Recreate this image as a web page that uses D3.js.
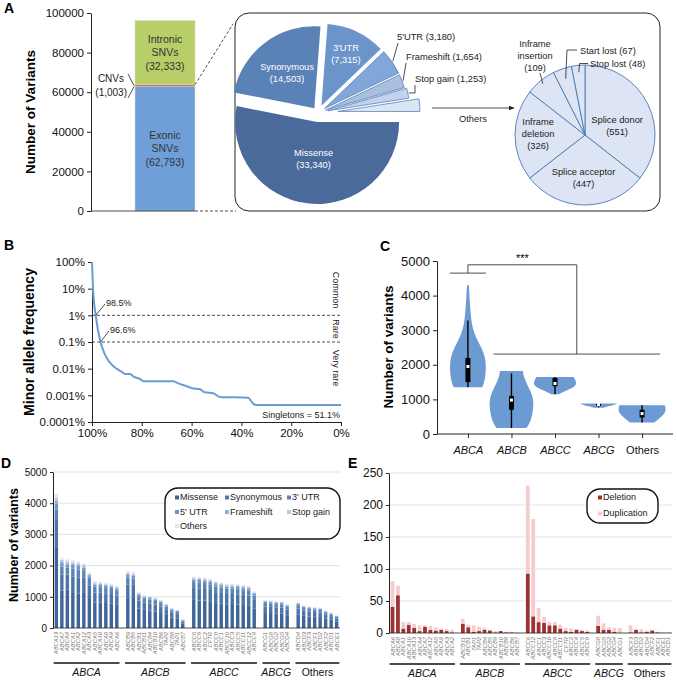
<!DOCTYPE html>
<html>
<head>
<meta charset="utf-8">
<script src="https://cdn.jsdelivr.net/npm/d3@7"></script>
<style>
body { margin: 0; background: #fff; }
svg text { font-family: "Liberation Sans", Arial, Helvetica, sans-serif; }
</style>
</head>
<body>
<svg id="fig" width="677" height="680"></svg>
<script>
// ---- panel A data
const variantTypes = ["Exonic", "CNVs", "Intronic"];
const variantCounts = [62793, 1003, 32333];
const aTicks = [0, 20000, 40000, 60000, 80000, 100000];

const exonicTypes = ["Missense", "Synonymous", "3'UTR", "5'UTR", "Frameshift", "Stop gain", "Others"];
const exonicCounts = [33340, 14503, 7315, 3180, 1654, 1253, 1548];
const otherTypes = ["Splice donor", "Splice acceptor", "Inframe deletion", "Inframe insertion", "Start lost", "Stop lost"];
const otherCounts = [551, 447, 326, 109, 67, 48];

// ---- panel B data (share of variants, MAF %)
const mafShare = [100, 99.6, 98.5, 96.6, 95.3, 94, 92, 90, 88, 86.7, 84.7, 83.3, 80.7, 79.3, 67.3, 66, 62, 59.3, 56.7, 54.7, 51.3, 48.7, 37.3, 35.3, 34, 0];
const mafValue = [100, 10.5, 1, 0.1, 0.044, 0.0245, 0.0138, 0.0098, 0.0076, 0.0063, 0.0063, 0.005, 0.0041, 0.0034, 0.0034, 0.003, 0.0022, 0.0018, 0.0017, 0.0013, 0.0012, 0.00087, 0.00081, 0.00049, 0.00043, 0.00043];
const mafTicks = [100, 10, 1, 0.1, 0.01, 0.001, 0.0001];
const mafTickLabels = ["100%", "10%", "1%", "0.1%", "0.01%", "0.001%", "0.0001%"];
const shareTicks = [100, 80, 60, 40, 20, 0];

// ---- panel C data
const families = ["ABCA", "ABCB", "ABCC", "ABCG", "Others"];
// [variants, relative density]
const violinProfiles = [
    [[1350, 0.6], [1500, 0.68], [1700, 0.73], [1900, 0.75], [2100, 0.74], [2300, 0.68], [2500, 0.56], [2700, 0.4], [2900, 0.28], [3100, 0.19], [3300, 0.14], [3600, 0.1], [3900, 0.07], [4300, 0.04]],
    [[170, 0.62], [300, 0.75], [500, 0.85], [700, 0.9], [900, 0.92], [1100, 0.88], [1300, 0.75], [1500, 0.6], [1700, 0.5], [1820, 0.48]],
    [[1150, 0.15], [1250, 0.45], [1350, 0.8], [1450, 0.9], [1550, 0.85], [1650, 0.78]],
    [[760, 0.2], [800, 0.4], [840, 0.65], [880, 0.78]],
    [[330, 0.5], [450, 0.72], [550, 0.88], [650, 0.98], [750, 0.98], [830, 0.95]]
];
// low whisker, q1, median, q3, high whisker
const boxStats = [
    [1350, 1500, 1950, 2200, 3280],
    [170, 700, 980, 1100, 1750],
    [1150, 1380, 1460, 1620, 1650],
    [770, 820, 850, 870, 880],
    [330, 480, 590, 700, 830]
];
const cTicks = [0, 1000, 2000, 3000, 4000, 5000];

// ---- panel D data
const snvGenes = [
    ["ABCA13", "ABCA7", "ABCA4", "ABCA1", "ABCA2", "ABCA12", "ABCA3", "ABCA5", "ABCA10", "ABCA8", "ABCA9", "ABCA6"],
    ["ABCB9", "ABCB5", "ABCB1", "ABCB11", "ABCB4", "ABCB10", "ABCB6", "TAP2", "ABCB8", "TAP1", "ABCB7"],
    ["ABCC6", "ABCC9", "ABCC2", "CFTR", "ABCC8", "ABCC1", "ABCC10", "ABCC3", "ABCC5", "ABCC11", "ABCC12", "ABCC4"],
    ["ABCG1", "ABCG8", "ABCG2", "ABCG5", "ABCG4"],
    ["ABCD4", "ABCD3", "ABCF3", "ABCF1", "ABCD2", "ABCF2", "ABCD1", "ABCE1"]
];
const snvMissense = [2620, 1200, 1230, 1150, 1100, 1150, 960, 810, 820, 800, 780, 740, 960, 990, 620, 580, 560, 530, 480, 420, 340, 310, 140, 900, 880, 880, 860, 800, 780, 760, 770, 750, 740, 730, 630, 480, 480, 460, 460, 410, 440, 390, 370, 360, 350, 300, 265, 215];
const snvSynonymous = [900, 520, 480, 500, 520, 460, 410, 330, 320, 310, 310, 300, 430, 390, 260, 230, 230, 220, 210, 180, 150, 135, 65, 380, 380, 370, 360, 350, 340, 330, 320, 330, 320, 310, 270, 210, 200, 200, 195, 175, 190, 165, 160, 155, 150, 130, 112, 92];
const snvUtr3 = [280, 250, 230, 260, 250, 220, 200, 180, 170, 170, 160, 150, 220, 200, 140, 120, 120, 115, 105, 90, 75, 70, 32, 190, 200, 190, 180, 180, 175, 170, 170, 165, 165, 160, 140, 110, 105, 105, 100, 90, 100, 85, 85, 80, 78, 68, 58, 48];
const snvUtr5 = [180, 110, 100, 110, 120, 100, 90, 70, 70, 70, 70, 65, 90, 90, 55, 50, 50, 50, 45, 40, 35, 30, 15, 80, 80, 80, 80, 75, 75, 70, 70, 70, 70, 65, 55, 45, 45, 45, 45, 40, 40, 35, 35, 35, 32, 28, 25, 20];
const snvFrameshift = [110, 60, 55, 50, 50, 50, 45, 40, 35, 35, 35, 35, 45, 45, 30, 25, 25, 25, 22, 20, 15, 14, 7, 40, 40, 40, 40, 40, 35, 35, 35, 35, 35, 35, 30, 22, 20, 20, 20, 18, 20, 18, 16, 16, 15, 14, 12, 10];
const snvStopGain = [90, 50, 45, 40, 40, 40, 35, 30, 30, 30, 30, 25, 35, 35, 20, 20, 20, 18, 18, 14, 12, 10, 5, 30, 30, 30, 30, 25, 25, 25, 25, 25, 25, 25, 20, 15, 15, 15, 15, 12, 15, 12, 12, 12, 12, 10, 8, 7];
const snvOthers = [120, 60, 60, 60, 50, 50, 40, 40, 35, 35, 35, 35, 40, 40, 25, 25, 25, 22, 20, 16, 13, 11, 6, 30, 30, 30, 30, 30, 30, 30, 30, 25, 25, 25, 25, 18, 15, 15, 15, 15, 15, 15, 12, 12, 13, 10, 10, 8];
const snvSeriesNames = ["Missense", "Synonymous", "3' UTR", "5' UTR", "Frameshift", "Stop gain", "Others"];
const dTicks = [0, 1000, 2000, 3000, 4000, 5000];

// ---- panel E data
const cnvGenes = [
    ["ABCA6", "ABCA8", "ABCA1", "ABCA10", "ABCA13", "ABCA4", "ABCA7", "ABCA12", "ABCA5", "ABCA9", "ABCA3", "ABCA2"],
    ["ABCB11", "ABCB1", "TAP1", "TAP2", "ABCB4", "ABCB5", "ABCB9", "ABCB10", "ABCB8", "ABCB6", "ABCB7"],
    ["ABCC6", "ABCC12", "ABCC1", "ABCC3", "ABCC10", "ABCC8", "ABCC11", "CFTR", "ABCC2", "ABCC4", "ABCC5", "ABCC9"],
    ["ABCG8", "ABCG5", "ABCG2", "ABCG4", "ABCG1"],
    ["ABCF3", "ABCD3", "ABCD2", "ABCD4", "ABCF2", "ABCF1", "ABCE1", "ABCD1"]
];
const cnvDeletion = [41, 59, 7, 13, 8, 3, 10, 5, 4, 5, 3, 1, 14, 9, 2, 3, 5, 4, 1, 3, 1, 1, 0, 93, 26, 17, 16, 12, 12, 7, 3, 2, 5, 3, 2, 11, 5, 5, 2, 0, 1, 5, 1, 2, 4, 1, 0, 0];
const cnvDuplication = [40, 15, 10, 4, 6, 9, 2, 6, 5, 2, 3, 4, 8, 4, 10, 7, 3, 1, 2, 0, 1, 1, 1, 137, 152, 22, 9, 5, 5, 6, 5, 5, 1, 2, 2, 16, 10, 4, 6, 8, 11, 2, 5, 2, 1, 1, 1, 1];
const cnvSeriesNames = ["Deletion", "Duplication"];
const eTicks = [0, 50, 100, 150, 200, 250];

// ------------------------------------------------------------------
const svg = d3.select("#fig");
const fmt = d3.format(",");
const plain = d3.format("d");
const MYR = "'Noto Sans', 'Open Sans', sans-serif";
const SANS = "'Liberation Sans', Arial, sans-serif";

function styleAxis(g, size) {
    g.attr("font-family", SANS).attr("font-size", size);
    g.selectAll(".domain, .tick line").attr("stroke", "#222");
    g.selectAll(".tick text").attr("fill", "#111");
}

function panelLetter(x, y, t) {
    svg.append("text").attr("x", x).attr("y", y).attr("font-size", 14)
        .attr("font-weight", "bold").text(t);
}

function yTitle(x, y, t, size) {
    svg.append("text").attr("transform", `translate(${x},${y}) rotate(-90)`)
        .attr("text-anchor", "middle").attr("font-size", size)
        .attr("font-weight", "bold").text(t);
}

function line(g, pts, dash) {
    g.append("path").attr("d", d3.line()(pts)).attr("fill", "none")
        .attr("stroke", "#222").attr("stroke-width", 0.8)
        .attr("stroke-dasharray", dash || null);
}

// ================= A =================
panelLetter(4, 13, "A");
const gA = svg.append("g");
const yA = d3.scaleLinear().domain([0, 100000]).range([211, 13]);
gA.append("g").attr("transform", "translate(91,0)")
    .call(d3.axisLeft(yA).tickValues(aTicks).tickSize(4).tickSizeOuter(0).tickFormat(plain))
    .call(g => styleAxis(g, 11.5));
yTitle(35, 112, "Number of Variants", 13.5);

const variantColors = ["#6e9fd9", "#d0665c", "#b8ce69"];
let cum = 0;
const stackA = variantCounts.map((v, i) => {
    const s = { type: variantTypes[i], v: v, y0: cum, y1: cum + v };
    cum += v;
    return s;
});
gA.selectAll("rect.seg").data(stackA).join("rect")
    .attr("x", 135).attr("width", 60)
    .attr("y", d => yA(d.y1)).attr("height", d => yA(d.y0) - yA(d.y1))
    .attr("fill", (d, i) => variantColors[i])
    .attr("stroke", "#d8dccf").attr("stroke-width", 0.6);

[0, 2].forEach(i => {
    const d = stackA[i];
    const cy = yA((d.y0 + d.y1) / 2);
    [d.type, "SNVs", "(" + fmt(d.v) + ")"].forEach((t, k) => {
        gA.append("text").attr("x", 165).attr("y", cy + (k - 1) * 13.5 + 3.5)
            .attr("text-anchor", "middle").attr("font-family", MYR).attr("font-size", 10.5)
            .attr("fill", "#333").text(t);
    });
});
const cnvY = yA((stackA[1].y0 + stackA[1].y1) / 2);
gA.append("text").attr("x", 124).attr("y", 82).attr("text-anchor", "end")
    .attr("font-family", MYR).attr("font-size", 10).attr("fill", "#222").text("CNVs");
gA.append("text").attr("x", 127).attr("y", 96).attr("text-anchor", "end")
    .attr("font-family", MYR).attr("font-size", 10).attr("fill", "#222").text("(" + fmt(variantCounts[1]) + ")");
line(gA, [[128, 74], [134, cnvY]]);
line(gA, [[128, 98], [134, cnvY + 1]]);

line(gA, [[91, 211], [195, 211]]);
line(gA, [[195, 211], [236, 211]], "3,2");
line(gA, [[195, yA(stackA[1].y1)], [233, 24]], "3,2");

// box around exonic breakdown
gA.append("rect").attr("x", 235).attr("y", 13).attr("width", 425).attr("height", 198)
    .attr("rx", 14).attr("fill", "none").attr("stroke", "#222").attr("stroke-width", 1);

// big pie
const pieR = 82, pieCx = 318, pieCy = 113;
const explode = [9, 6, 8, 8, 8, 10, 20];
const pieColors = ["#4a6a9b", "#5b82b6", "#6a94ca", "#80a7d7", "#a9bfe0", "#c4d2eb", "#dce5f4"];
const bigArcs = d3.pie().sort(null).startAngle(Math.PI / 2).endAngle(Math.PI * 2.5)(exonicCounts);
bigArcs.forEach((a, i) => {
    a.mid = (a.startAngle + a.endAngle) / 2;
    a.cx = pieCx + Math.sin(a.mid) * explode[i];
    a.cy = pieCy - Math.cos(a.mid) * explode[i];
});
const arcBig = d3.arc().innerRadius(0).outerRadius(pieR);
gA.selectAll("path.big").data(bigArcs).join("path")
    .attr("transform", a => `translate(${a.cx},${a.cy})`)
    .attr("d", arcBig)
    .attr("fill", (a, i) => pieColors[i])
    .attr("stroke", (a, i) => i >= 3 ? "#5a83be" : "none").attr("stroke-width", 0.8);

function arcPt(a, rr) {
    return [a.cx + Math.sin(a.mid) * rr, a.cy - Math.cos(a.mid) * rr];
}
const innerLabelR = [0.45, 0.55, 0.7];
innerLabelR.forEach((f, i) => {
    const p = arcPt(bigArcs[i], pieR * f);
    [exonicTypes[i], "(" + fmt(exonicCounts[i]) + ")"].forEach((t, k) => {
        gA.append("text").attr("x", p[0]).attr("y", p[1] + (k - 0.5) * 12 + 3.5)
            .attr("text-anchor", "middle").attr("font-family", MYR).attr("font-size", 9.3)
            .attr("fill", "#fff").text(t);
    });
});
const outerLabels = [
    { i: 3, x: 397, y: 39.5, pts: [[398, 43]] },
    { i: 4, x: 406, y: 59.5, pts: [[406, 63]] },
    { i: 5, x: 415, y: 81.5, pts: [[415, 93], [415, 85]] }
];
outerLabels.forEach(o => {
    gA.append("text").attr("x", o.x).attr("y", o.y).attr("font-family", MYR)
        .attr("font-size", 9.3).attr("fill", "#222")
        .text(exonicTypes[o.i] + " (" + fmt(exonicCounts[o.i]) + ")");
    line(gA, [arcPt(bigArcs[o.i], pieR + 1)].concat(o.pts));
});

// arrow to the breakdown of "Others"
svg.append("defs").append("marker").attr("id", "arrow").attr("viewBox", "0 0 10 10")
    .attr("refX", 9).attr("refY", 5).attr("markerWidth", 7).attr("markerHeight", 7)
    .attr("orient", "auto").append("path").attr("d", "M0,1L10,5L0,9Z").attr("fill", "#222");
gA.append("line").attr("x1", 432).attr("y1", 108).attr("x2", 514).attr("y2", 108)
    .attr("stroke", "#222").attr("stroke-width", 0.8).attr("marker-end", "url(#arrow)");
gA.append("text").attr("x", 473).attr("y", 122).attr("text-anchor", "middle")
    .attr("font-family", MYR).attr("font-size", 9.3).attr("fill", "#222").text(exonicTypes[6]);

// small pie
const sR = 70, sCx = 585, sCy = 135;
const smallArcs = d3.pie().sort(null)(otherCounts);
const arcSmall = d3.arc().innerRadius(0).outerRadius(sR);
gA.append("g").attr("transform", `translate(${sCx},${sCy})`)
    .selectAll("path").data(smallArcs).join("path")
    .attr("d", arcSmall).attr("fill", "#dde5f5").attr("stroke", "#4d78b5").attr("stroke-width", 0.9);

function sPt(a, rr) {
    const m = (a.startAngle + a.endAngle) / 2;
    return [sCx + Math.sin(m) * rr, sCy - Math.cos(m) * rr];
}
const smallInner = [
    { i: 0, ang: 73, f: 0.48, lines: ["Splice donor", "(551)"] },
    { i: 1, ang: 182, f: 0.61, lines: ["Splice acceptor", "(447)"] },
    { i: 2, ang: 272, f: 0.67, lines: ["Inframe", "deletion", "(326)"] }
];
smallInner.forEach(o => {
    const a = o.ang * Math.PI / 180;
    const px = sCx + Math.sin(a) * sR * o.f, py = sCy - Math.cos(a) * sR * o.f;
    const n = o.lines.length;
    o.lines.forEach((t, k) => {
        const txt = k === n - 1 ? "(" + otherCounts[o.i] + ")" : t;
        gA.append("text").attr("x", px).attr("y", py + (k - (n - 1) / 2) * 12 + 3.5)
            .attr("text-anchor", "middle").attr("font-family", MYR).attr("font-size", 9.3)
            .attr("fill", "#222").text(txt);
    });
});
["Inframe", "insertion", "(" + otherCounts[3] + ")"].forEach((t, k) => {
    gA.append("text").attr("x", 535).attr("y", 46.5 + k * 12).attr("text-anchor", "middle")
        .attr("font-family", MYR).attr("font-size", 9.3).attr("fill", "#222").text(t);
});
line(gA, [sPt(smallArcs[3], sR * 0.95), [540, 73]]);
gA.append("text").attr("x", 580).attr("y", 53.5).attr("font-family", MYR).attr("font-size", 9.3)
    .attr("fill", "#222").text(otherTypes[4] + " (" + otherCounts[4] + ")");
line(gA, [sPt(smallArcs[4], sR * 0.85), [567, 50], [577, 50]]);
gA.append("text").attr("x", 590).attr("y", 66.5).attr("font-family", MYR).attr("font-size", 9.3)
    .attr("fill", "#222").text(otherTypes[5] + " (" + otherCounts[5] + ")");
line(gA, [sPt(smallArcs[5], sR * 0.9), [579.5, 63.5], [588, 63.5]]);

// ================= B =================
panelLetter(4, 250, "B");
const gB = svg.append("g");
const xB = d3.scaleLinear().domain([100, 0]).range([92, 341]);
const yB = d3.scaleLog().domain([0.0001, 100]).range([422, 262]);
gB.append("g").attr("transform", "translate(92,0)")
    .call(d3.axisLeft(yB).tickValues(mafTicks).tickSize(4).tickSizeOuter(0)
        .tickFormat((d, i) => mafTickLabels[i]))
    .call(g => styleAxis(g, 11.5));
gB.append("g").attr("transform", "translate(0,422)")
    .call(d3.axisBottom(xB).tickValues(shareTicks).tickSize(4).tickSizeOuter(0)
        .tickFormat(d => d + "%"))
    .call(g => styleAxis(g, 11.5));
yTitle(34, 342, "Minor allele frequency", 14);

[1, 0.1].forEach(v => line(gB, [[92, yB(v)], [340, yB(v)]], "3,2"));
gB.append("path").datum(mafShare.map((s, i) => [xB(s), yB(mafValue[i])]))
    .attr("d", d3.line().curve(d3.curveMonotoneX))
    .attr("fill", "none").attr("stroke", "#6b9cd3").attr("stroke-width", 2);

[["Common", 290], ["Rare", 329], ["Very rare", 368]].forEach(d => {
    gB.append("text").attr("transform", `translate(333,${d[1]}) rotate(90)`)
        .attr("text-anchor", "middle").attr("font-family", MYR).attr("font-size", 9)
        .attr("fill", "#222").text(d[0]);
});
gB.append("text").attr("x", 106).attr("y", 306).attr("font-family", MYR).attr("font-size", 9)
    .attr("fill", "#222").text("98.5%");
line(gB, [[xB(98.5), yB(1)], [105, 304]]);
gB.append("text").attr("x", 110).attr("y", 333).attr("font-family", MYR).attr("font-size", 9)
    .attr("fill", "#222").text("96.6%");
line(gB, [[xB(96.6), yB(0.1)], [109, 331]]);
gB.append("text").attr("x", 340).attr("y", 418).attr("text-anchor", "end")
    .attr("font-family", MYR).attr("font-size", 9).attr("fill", "#222").text("Singletons = 51.1%");

// ================= C =================
panelLetter(380, 251, "C");
const gC = svg.append("g");
const xC = d3.scalePoint().domain(families).range([437, 673]).padding(0.71);
const yC = d3.scaleLinear().domain([0, 5000]).range([434, 261]);
const wC = d3.scaleLinear().domain([0, 1]).range([0, 24]);
gC.append("g").attr("transform", "translate(437,0)")
    .call(d3.axisLeft(yC).tickValues(cTicks).tickSize(4).tickSizeOuter(0).tickFormat(plain))
    .call(g => styleAxis(g, 13));
gC.append("g").attr("transform", "translate(0,434)")
    .call(d3.axisBottom(xC).tickSize(4).tickSizeOuter(0))
    .call(g => styleAxis(g, 11))
    .call(g => g.selectAll(".tick text").attr("dy", "1.15em")
        .attr("font-style", d => d === "Others" ? "normal" : "italic"))
    .call(g => g.select(".domain").attr("d", "M437,0H673"));
yTitle(393, 347, "Number of variants", 13.5);

families.forEach((f, i) => {
    const cx = xC(f);
    gC.append("path").datum(violinProfiles[i])
        .attr("d", d3.area().curve(d3.curveBasis)
            .y(d => yC(d[0])).x0(d => cx - wC(d[1])).x1(d => cx + wC(d[1])))
        .attr("fill", "#6c9bd3");
    const b = boxStats[i];
    gC.append("line").attr("x1", cx).attr("x2", cx).attr("y1", yC(b[0])).attr("y2", yC(b[4]))
        .attr("stroke", "#000").attr("stroke-width", 1.4);
    gC.append("rect").attr("x", cx - 2.5).attr("width", 5).attr("y", yC(b[3]))
        .attr("height", Math.max(2, yC(b[1]) - yC(b[3]))).attr("fill", "#000");
    gC.append("rect").attr("x", cx - 1.5).attr("width", 3).attr("y", yC(b[2]) - 1.5)
        .attr("height", 3).attr("fill", "#fff");
});
// significance bracket
const brLeft = xC("ABCA"), brRight = (xC("ABCB") - 18 + xC("Others") + 18) / 2;
line(gC, [[brLeft - 18, yC(4650)], [brLeft + 18, yC(4650)]]);
line(gC, [[brLeft, yC(4650)], [brLeft, yC(4890)], [brRight, yC(4890)], [brRight, yC(2310)]]);
line(gC, [[xC("ABCB") - 18, yC(2310)], [xC("Others") + 18, yC(2310)]]);
gC.append("text").attr("x", (brLeft + brRight) / 2).attr("y", yC(4890) - 3)
    .attr("text-anchor", "middle").attr("font-size", 11).text("***");

// ================= bar panels D / E =================
function slotList(groups) {
    const slots = [];
    groups.forEach((grp, gi) => {
        if (gi > 0) slots.push("gap" + gi);
        grp.forEach(g => slots.push(g));
    });
    return slots;
}

function groupAxis(g, x, groups, yLine) {
    groups.forEach((grp, gi) => {
        const x0 = x(grp[0]) - 1, x1 = x(grp[grp.length - 1]) + x.bandwidth() + 1;
        g.append("line").attr("x1", x0).attr("x2", x1).attr("y1", yLine).attr("y2", yLine)
            .attr("stroke", "#111").attr("stroke-width", 1.5);
        g.append("text").attr("x", (x0 + x1) / 2).attr("y", yLine + 13)
            .attr("text-anchor", "middle").attr("font-size", 10.5)
            .attr("font-style", gi === 4 ? "normal" : "italic").attr("fill", "#111")
            .text(families[gi]);
    });
}

function geneLabels(g, x, genes, y0) {
    g.selectAll("text.gene").data(genes).join("text")
        .attr("transform", d => `translate(${x(d) + x.bandwidth() / 2 + 2},${y0}) rotate(-90)`)
        .attr("text-anchor", "end").attr("font-size", 5.8).attr("font-style", "italic")
        .attr("fill", "#777").text(d => d);
}

function legendBox(g, x, y, w, h, items, cols, colors, cx, cy) {
    g.append("rect").attr("x", x).attr("y", y).attr("width", w).attr("height", h)
        .attr("rx", 13).attr("fill", "#fff").attr("stroke", "#111").attr("stroke-width", 1.4);
    items.forEach((t, i) => {
        const px = cx[i % cols], py = cy[Math.floor(i / cols)];
        g.append("rect").attr("x", px - 1).attr("y", py - 2.5).attr("width", 4).attr("height", 4)
            .attr("fill", colors[i]);
        g.append("text").attr("x", px + 4).attr("y", py + 2).attr("font-size", 9)
            .attr("fill", "#222").text(t);
    });
}

// ---- D
panelLetter(1, 468, "D");
const gD = svg.append("g");
const snvFlat = snvGenes.flat();
const xD = d3.scaleBand().domain(slotList(snvGenes)).range([53, 340]).paddingInner(0.38).paddingOuter(0.3);
const yD = d3.scaleLinear().domain([0, 5000]).range([628, 472]);
const snvColors = ["#40659a", "#4d74a8", "#5b83b7", "#7096c7", "#94b0d7", "#bdcbe2", "#dfe6f1"];
const snvSeries = [snvMissense, snvSynonymous, snvUtr3, snvUtr5, snvFrameshift, snvStopGain, snvOthers];
const snvRows = snvFlat.map((gene, i) => {
    const r = { gene: gene };
    snvSeriesNames.forEach((s, k) => r[s] = snvSeries[k][i]);
    return r;
});
gD.selectAll("line.grid").data(dTicks.slice(1)).join("line")
    .attr("x1", 53).attr("x2", 340).attr("y1", d => yD(d)).attr("y2", d => yD(d))
    .attr("stroke", "#e2e2e2");
gD.append("g").selectAll("g").data(d3.stack().keys(snvSeriesNames)(snvRows)).join("g")
    .attr("fill", (d, i) => snvColors[i])
    .selectAll("rect").data(d => d).join("rect")
    .attr("x", d => xD(d.data.gene)).attr("width", xD.bandwidth())
    .attr("y", d => yD(d[1])).attr("height", d => yD(d[0]) - yD(d[1]));
gD.append("g").attr("transform", "translate(53,0)")
    .call(d3.axisLeft(yD).tickValues(dTicks).tickSize(3).tickSizeOuter(0).tickFormat(plain))
    .call(g => styleAxis(g, 10));
line(gD, [[53, 628], [340, 628]]);
geneLabels(gD, xD, snvFlat, 632);
groupAxis(gD, xD, snvGenes, 663);
yTitle(18, 545, "Number of variants", 12.5);
legendBox(gD, 165, 488, 175, 51, snvSeriesNames, 3, snvColors, [176, 226, 288], [498, 512.5, 526.5]);

// ---- E
panelLetter(348, 468, "E");
const gE = svg.append("g");
const cnvFlat = cnvGenes.flat();
const xE = d3.scaleBand().domain(slotList(cnvGenes)).range([389, 672]).paddingInner(0.3).paddingOuter(0.3);
const yE = d3.scaleLinear().domain([0, 250]).range([633, 473]);
const cnvColors = ["#9c3232", "#f3cdcd"];
const cnvRows = cnvFlat.map((gene, i) => ({ gene: gene, Deletion: cnvDeletion[i], Duplication: cnvDuplication[i] }));
gE.selectAll("line.grid").data(eTicks.slice(1)).join("line")
    .attr("x1", 389).attr("x2", 672).attr("y1", d => yE(d)).attr("y2", d => yE(d))
    .attr("stroke", "#e6e6e6");
gE.append("g").selectAll("g").data(d3.stack().keys(cnvSeriesNames)(cnvRows)).join("g")
    .attr("fill", (d, i) => cnvColors[i])
    .selectAll("rect").data(d => d).join("rect")
    .attr("x", d => xE(d.data.gene)).attr("width", xE.bandwidth())
    .attr("y", d => yE(d[1])).attr("height", d => yE(d[0]) - yE(d[1]));
gE.append("g").attr("transform", "translate(389,0)")
    .call(d3.axisLeft(yE).tickValues(eTicks).tickSize(3).tickSizeOuter(0).tickFormat(plain))
    .call(g => styleAxis(g, 12));
line(gE, [[389, 633], [672, 633]]);
geneLabels(gE, xE, cnvFlat, 637);
groupAxis(gE, xE, cnvGenes, 664);
legendBox(gE, 587, 489, 71, 34, cnvSeriesNames, 1, cnvColors, [599], [498, 514]);
</script>
</body>
</html>
